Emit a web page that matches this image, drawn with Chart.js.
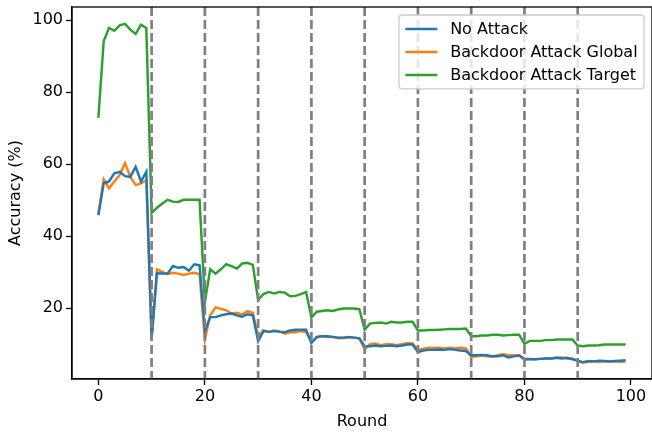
<!DOCTYPE html>
<html>
<head>
<meta charset="utf-8">
<script src="https://cdn.jsdelivr.net/npm/chart.js@4.4.1/dist/chart.umd.min.js"></script>
<style>
  html, body { margin: 0; padding: 0; background: #fff; }
  #wrap { width: 652px; height: 432px; }
</style>
</head>
<body>
<div id="wrap"><canvas id="accChart" width="652" height="432"></canvas></div>
<script>
// values, one entry per round (0..99)
const noAttack = [
    45.9, 54.7, 55.2, 57.5, 57.9, 56.7, 56.5, 59.3, 55.2, 57.9,
    11.5, 29.7, 29.6, 29.6, 31.7, 31.2, 31.4, 30.4, 32.2, 31.9,
    13.5, 17.5, 17.5, 18.0, 18.3, 18.5, 18.0, 17.6, 18.3, 18.0,
    10.8, 13.6, 13.4, 13.6, 13.4, 13.3, 13.8, 14.0, 14.0, 14.0,
    10.3, 12.0, 12.2, 12.2, 12.0, 11.8, 11.8, 12.0, 11.8, 11.6,
    9.4, 9.4, 9.6, 9.4, 9.5, 9.6, 9.4, 9.6, 9.9, 9.9,
    7.8, 8.2, 8.4, 8.4, 8.5, 8.4, 8.6, 8.4, 8.2, 8.1,
    6.9, 6.9, 7.0, 6.9, 6.6, 6.6, 6.9, 6.3, 6.6, 6.8,
    5.7, 5.8, 5.8, 5.9, 6.0, 6.0, 6.2, 6.0, 6.2, 5.8,
    5.4, 5.0, 5.3, 5.2, 5.4, 5.3, 5.2, 5.3, 5.4, 5.5
];
const backdoorGlobal = [
    45.9, 55.8, 53.3, 55.2, 57.0, 60.3, 56.5, 54.2, 54.7, 55.6,
    11.3, 30.8, 30.1, 29.4, 29.8, 29.6, 29.2, 29.6, 29.8, 29.4,
    11.3, 18.0, 20.2, 19.8, 19.4, 18.5, 18.7, 18.2, 19.2, 18.7,
    12.2, 13.8, 13.4, 13.8, 13.6, 12.9, 13.3, 13.3, 13.6, 13.3,
    10.6, 11.8, 12.2, 12.0, 12.0, 11.6, 11.7, 11.8, 11.8, 11.6,
    8.5, 10.0, 10.2, 9.7, 10.0, 10.0, 9.7, 10.0, 10.3, 10.2,
    8.3, 8.7, 9.0, 8.9, 9.0, 8.8, 9.0, 8.8, 9.0, 8.8,
    6.4, 6.6, 6.8, 6.6, 6.5, 6.9, 7.2, 6.9, 6.9, 6.9,
    6.0, 5.9, 5.8, 5.9, 6.0, 6.0, 6.2, 6.3, 6.0, 6.0,
    5.3, 4.8, 5.1, 5.2, 5.0, 5.2, 5.1, 5.2, 5.0, 5.2
];
const backdoorTarget = [
    72.9, 94.2, 97.9, 97.1, 98.6, 99.0, 97.4, 96.2, 98.8, 97.9,
    46.4, 47.9, 49.1, 50.1, 49.6, 49.5, 50.1, 50.1, 50.1, 50.1,
    21.7, 30.8, 29.6, 30.8, 32.2, 31.7, 31.0, 32.4, 32.6, 32.0,
    22.3, 23.9, 24.5, 24.1, 24.5, 24.3, 23.3, 23.4, 23.9, 24.5,
    17.4, 19.0, 19.2, 19.4, 19.2, 19.6, 19.9, 19.9, 19.9, 19.7,
    14.0, 15.7, 15.9, 16.0, 15.7, 16.2, 16.0, 16.0, 16.2, 16.2,
    13.8, 13.8, 13.9, 13.9, 14.0, 14.1, 14.2, 14.2, 14.2, 14.3,
    12.2, 12.2, 12.4, 12.4, 12.6, 12.6, 12.4, 12.5, 12.6, 12.6,
    10.1, 10.9, 10.9, 10.9, 11.1, 11.1, 11.3, 11.3, 11.3, 11.3,
    9.6, 9.4, 9.6, 9.6, 9.7, 9.9, 9.9, 9.9, 9.9, 9.9
];
const seriesNames = ['No Attack', 'Backdoor Attack Global', 'Backdoor Attack Target'];
const xTicks = [0, 20, 40, 60, 80, 100];
const yTicks = [20, 40, 60, 80, 100];
const boundaryRounds = [10, 20, 30, 40, 50, 60, 70, 80, 90];

const colors = ['#1f77b4', '#ff7f0e', '#2ca02c'];
const FS = 16;
const FONT = { family: 'DejaVu Sans', size: FS };

function toPoints(values) {
    return values.map((v, i) => ({ x: i, y: v }));
}

// dashed gray lines at every 10th round
const boundaryLines = {
    id: 'boundaryLines',
    afterDatasetsDraw(chart) {
        const { ctx, chartArea, scales } = chart;
        ctx.save();
        ctx.strokeStyle = '#808080';
        ctx.lineWidth = 2.7;
        ctx.setLineDash([9, 4]);
        boundaryRounds.forEach(r => {
            const x = scales.x.getPixelForValue(r);
            ctx.beginPath();
            ctx.moveTo(x, chartArea.top);
            ctx.lineTo(x, chartArea.bottom);
            ctx.stroke();
        });
        ctx.restore();
    }
};

// full axes box + matplotlib-like legend
const frameAndLegend = {
    id: 'frameAndLegend',
    afterDraw(chart) {
        const { ctx, chartArea } = chart;
        ctx.save();
        ctx.strokeStyle = '#000';
        ctx.lineWidth = 1.3;
        ctx.strokeRect(chartArea.left, chartArea.top, chartArea.right - chartArea.left, chartArea.bottom - chartArea.top);

        ctx.font = FS + 'px "DejaVu Sans"';
        const textW = Math.max(...seriesNames.map(n => ctx.measureText(n).width));
        const rowH = 15;
        const pad = 0.4 * FS;
        const handle = 2 * FS;
        const gap = 0.8 * FS;
        const w = pad * 2 + handle + gap + textW;
        const h = pad * 2 + seriesNames.length * rowH + (seriesNames.length - 1) * 0.5 * FS;
        const right = chartArea.right - 0.5 * FS;
        const top = chartArea.top + 0.5 * FS;
        const left = right - w;

        ctx.beginPath();
        ctx.roundRect(left, top, w, h, 0.2 * FS);
        ctx.fillStyle = 'rgba(255,255,255,0.8)';
        ctx.fill();
        ctx.strokeStyle = '#cccccc';
        ctx.lineWidth = 1.3;
        ctx.stroke();

        ctx.textBaseline = 'middle';
        ctx.textAlign = 'left';
        seriesNames.forEach((name, i) => {
            const cy = top + pad + rowH / 2 + i * (rowH + 0.5 * FS);
            ctx.strokeStyle = colors[i];
            ctx.lineWidth = 2.45;
            ctx.beginPath();
            ctx.moveTo(left + pad, cy);
            ctx.lineTo(left + pad + handle, cy);
            ctx.stroke();
            ctx.fillStyle = '#000';
            ctx.fillText(name, left + pad + handle + gap, cy + 1);
        });
        ctx.restore();
    }
};

const datasets = [noAttack, backdoorGlobal, backdoorTarget].map((vals, i) => ({
    label: seriesNames[i],
    data: toPoints(vals),
    borderColor: colors[i],
    backgroundColor: colors[i],
    borderWidth: 2.45,
    pointRadius: 0,
    tension: 0,
    fill: false
}));

const axisCommon = {
    type: 'linear',
    grid: { drawOnChartArea: false, tickLength: 6, tickColor: '#000', tickWidth: 1.3 },
    border: { display: true, color: '#000', width: 1.3 },
};

new Chart(document.getElementById('accChart').getContext('2d'), {
    type: 'line',
    data: { datasets },
    options: {
        responsive: false,
        animation: false,
        layout: { padding: { top: 7, right: 0, left: 0, bottom: 0 } },
        plugins: { legend: { display: false }, tooltip: { enabled: false } },
        scales: {
            x: {
                ...axisCommon,
                min: -4.95,
                max: 103.95,
                afterBuildTicks: s => { s.ticks = xTicks.map(v => ({ value: v })); },
                afterFit: s => { s.height = 53; s.paddingLeft = 0; s.paddingRight = 0; },
                ticks: { color: '#000', font: FONT, padding: 2, maxRotation: 0 },
                title: { display: true, text: 'Round', color: '#000', font: FONT, padding: { top: 0, bottom: 1 } }
            },
            y: {
                ...axisCommon,
                min: 0.3,
                max: 103.7,
                afterBuildTicks: s => { s.ticks = yTicks.map(v => ({ value: v })); },
                afterFit: s => { s.width = 72; s.paddingTop = 0; s.paddingBottom = 0; },
                ticks: { color: '#000', font: FONT, padding: 3 },
                title: { display: true, text: 'Accuracy (%)', color: '#000', font: FONT, padding: { top: 6, bottom: 0 } }
            }
        }
    },
    plugins: [boundaryLines, frameAndLegend]
});
</script>
</body>
</html>
